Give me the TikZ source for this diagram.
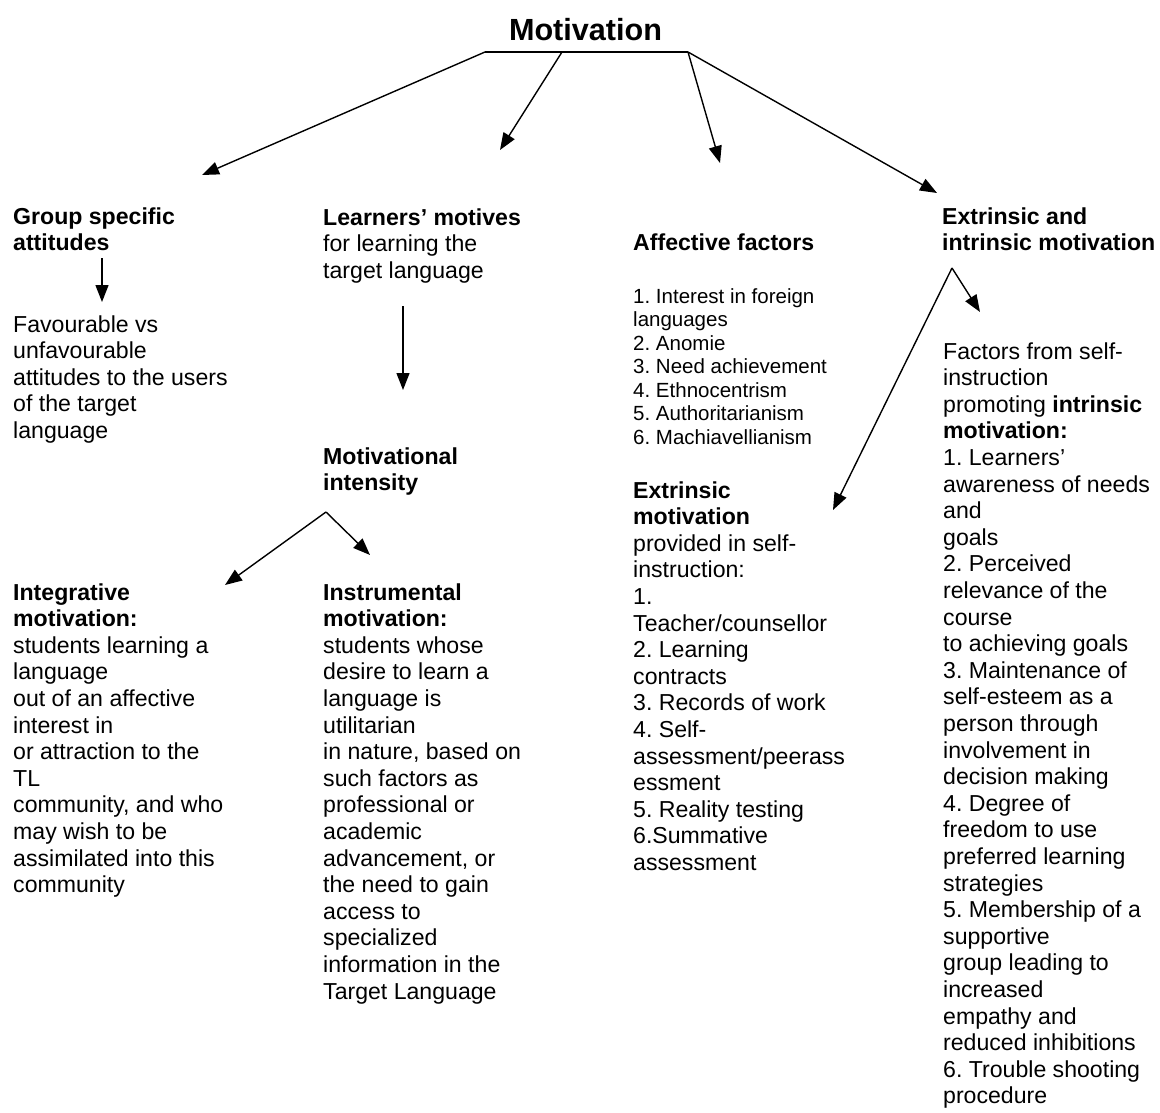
\documentclass[tikz,border=0pt]{standalone}
\usepackage{fontspec}
\setmainfont{Liberation Sans}
\usetikzlibrary{arrows.meta}
\frenchspacing

\begin{document}
\begin{tikzpicture}[
    x=1pt, y=-1pt,
    txt/.style={anchor=base west, inner sep=0pt, align=left, font=\fontsize{23.1}{26.6}\selectfont},
    smalltxt/.style={txt, font=\fontsize{20.5}{23.5}\selectfont},
    title/.style={inner sep=0pt, font=\bfseries\fontsize{30.6}{36}\selectfont},
    arrow/.style={draw, line width=1.4pt, -{Triangle[length=17pt,width=13pt]}},
    link/.style={draw, line width=1.4pt}
]
    \useasboundingbox (0,0) rectangle (1160,1113);

    \node[title] (motiv) at (585.5,30) {Motivation};

    % bar under the title and its branch points
    \coordinate (barL) at (485,52);
    \coordinate (barM) at (562,52);
    \coordinate (barR) at (688,52);
    \coordinate (toGroup) at (202,175);
    \coordinate (toMotives) at (500,150);
    \coordinate (toAffect) at (720,163);
    \coordinate (toExtInt) at (937,193);

    % text blocks, placed at the baseline of their last line
    \node[txt] (group) at (13,250.6) {\textbf{Group specific}\\\textbf{attitudes}};
    \node[txt] (favour) at (13,438.4) {Favourable vs\\unfavourable\\attitudes to the users\\of the target\\language};

    \node[txt] (motives) at (323,278.2) {\textbf{Learners’ motives}\\for learning the\\target language};
    \node[txt] (intens) at (323,490.6) {\textbf{Motivational}\\\textbf{intensity}};

    \node[txt] (integr) at (13,892.6) {\textbf{Integrative}\\\textbf{motivation:}\\students learning a\\language\\out of an affective\\interest in\\or attraction to the\\TL\\community, and who\\may wish to be\\assimilated into this\\community};
    \node[txt] (instr) at (323,999) {\textbf{Instrumental}\\\textbf{motivation:}\\students whose\\desire to learn a\\language is\\utilitarian\\in nature, based on\\such factors as\\professional or\\academic\\advancement, or\\the need to gain\\access to\\specialized\\information in the\\Target Language};

    \node[txt] (affect) at (633,250) {\textbf{Affective factors}};
    \node[smalltxt] (afflist) at (633,444) {1. Interest in foreign\\languages\\2. Anomie\\3. Need achievement\\4. Ethnocentrism\\5. Authoritarianism\\6. Machiavellianism};
    \node[txt] (extr) at (633,870.4) {\textbf{Extrinsic}\\\textbf{motivation}\\provided in self-\\instruction:\\1.\\Teacher/counsellor\\2. Learning\\contracts\\3. Records of work\\4. Self-\\assessment/peerass\\essment\\5. Reality testing\\6.Summative\\assessment};

    \node[txt] (extint) at (942,250.6) {\textbf{Extrinsic and}\\\textbf{intrinsic motivation}};
    \node[txt] (intr) at (943,1103.8) {Factors from self-\\instruction\\promoting \textbf{intrinsic}\\\textbf{motivation:}\\1. Learners’\\awareness of needs\\and\\goals\\2. Perceived\\relevance of the\\course\\to achieving goals\\3. Maintenance of\\self-esteem as a\\person through\\involvement in\\decision making\\4. Degree of\\freedom to use\\preferred learning\\strategies\\5. Membership of a\\supportive\\group leading to\\increased\\empathy and\\reduced inhibitions\\6. Trouble shooting\\procedure};

    % small arrows inside the columns
    \coordinate (grpA) at (102,258);
    \coordinate (grpB) at (102,302);
    \coordinate (motA) at (403,306);
    \coordinate (motB) at (403,390);
    \coordinate (intApex) at (326,512);
    \coordinate (toIntegr) at (225,585);
    \coordinate (toInstr) at (370,555);
    \coordinate (eiApex) at (952,268);
    \coordinate (toExtr) at (833,510);
    \coordinate (toIntr) at (980,312);

    \draw[link] (barL) -- (barR);
    \draw[arrow] (barL) -- (toGroup);
    \draw[arrow] (barM) -- (toMotives);
    \draw[arrow] (barR) -- (toAffect);
    \draw[arrow] (barR) -- (toExtInt);

    \draw[arrow] (grpA) -- (grpB);
    \draw[arrow] (motA) -- (motB);
    \draw[arrow] (intApex) -- (toIntegr);
    \draw[arrow] (intApex) -- (toInstr);
    \draw[arrow] (eiApex) -- (toExtr);
    \draw[arrow] (eiApex) -- (toIntr);
\end{tikzpicture}
\end{document}
